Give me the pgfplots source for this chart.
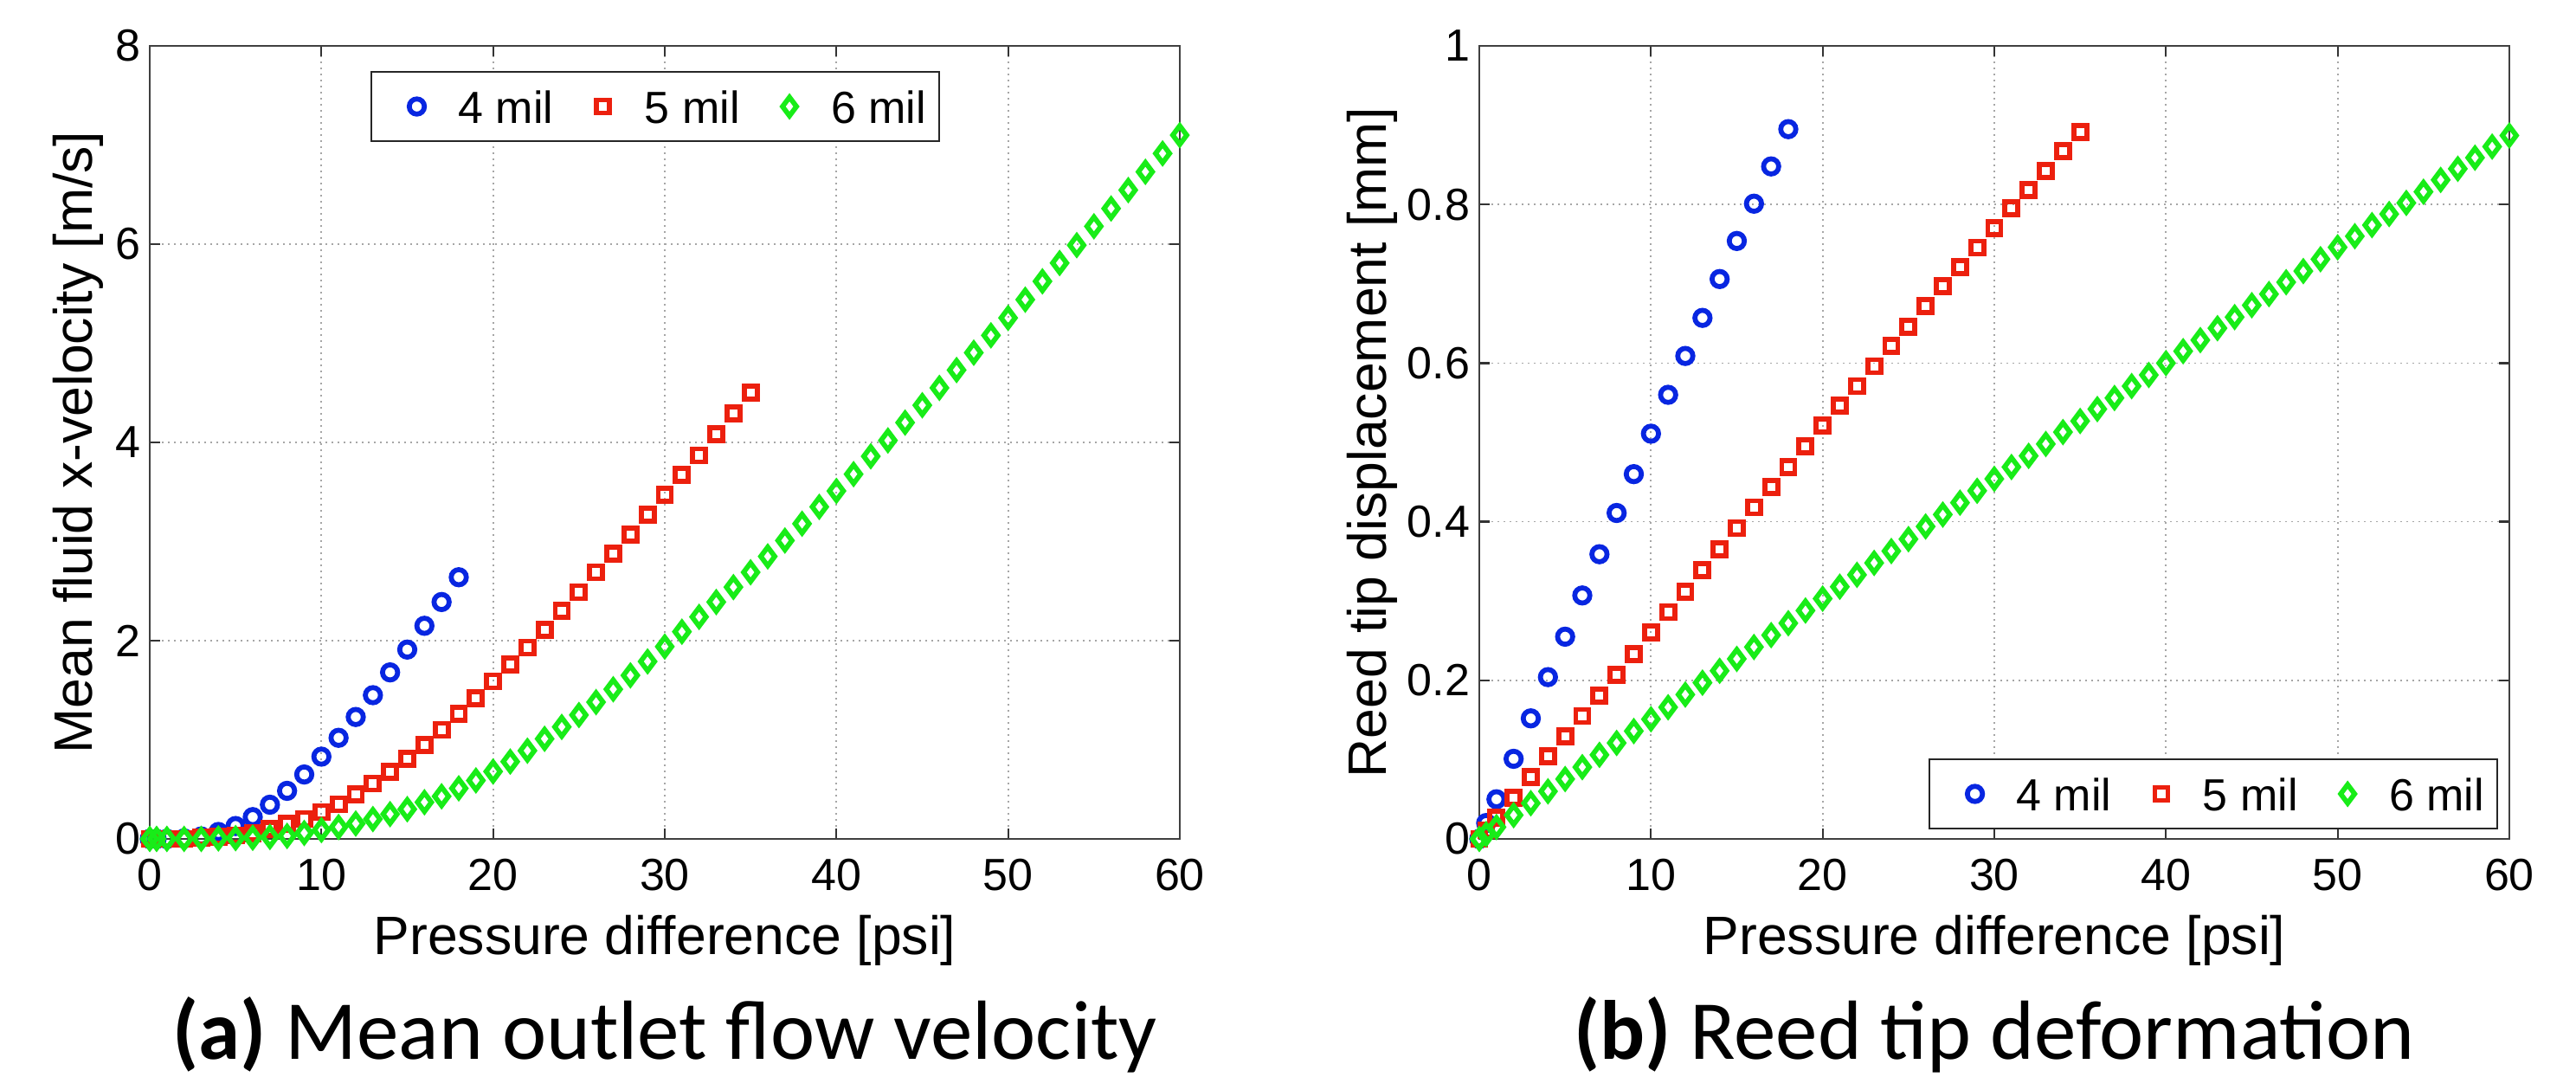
\documentclass[border=0pt]{standalone}
\usepackage{fontspec}
\setmainfont{Liberation Sans}
\newfontfamily\capfont{Carlito}
\usepackage{pgfplots}
\pgfplotsset{compat=1.18}
\definecolor{mblue}{RGB}{8,38,225}
\definecolor{mred}{RGB}{236,32,14}
\definecolor{mgreen}{RGB}{24,236,24}

\pgfplotsset{
  mymarks/.style={only marks, line width=1.15pt,
    legend image code/.code={\path[draw=none,fill=none] (-7.5pt,0pt) -- (2.4pt,0pt);
      \draw[##1,only marks,mark repeat=2,mark phase=2] plot coordinates {(-1pt,0pt) (0pt,0pt) (1pt,0pt)};}},
  panel/.style={
    scale only axis, width=238pt, height=183.2pt,
    anchor=south west, clip=false,
    xmin=0, xmax=60, xtick={0,10,20,30,40,50,60},
    grid=major,
    major grid style={densely dotted, black!35, line width=0.35pt},
    axis line style={black!75, line width=0.5pt},
    tick style={black!80, line width=0.45pt},
    major tick length=2.4pt, tick align=inside, tick pos=both,
    /pgf/number format/assume math mode=true,
    tick label style={font=\fontsize{10.4}{12}\selectfont},
    xticklabel style={inner sep=0pt, yshift=-4.4pt},
    yticklabel style={inner sep=0pt, xshift=-2pt},
    label style={font=\fontsize{12.5}{15}\selectfont},
    xlabel style={at={(axis description cs:0.5,0)}, anchor=base, yshift=-26.8pt},
    legend columns=-1,
    legend style={draw=black!85, line width=0.4pt, inner xsep=3pt, inner ysep=4.2pt,
      font=\fontsize{10.4}{12}\selectfont,
      nodes={inner sep=0pt, text height=7.6pt, text depth=0pt},
      /tikz/every odd column/.append style={column sep=7.2pt},
      /tikz/every even column/.append style={column sep=4pt}},
    xlabel={Pressure difference [psi]},
  },
  cmark/.style={mymarks, mark=o, mark size=1.75pt, color=mblue},
  smark/.style={mymarks, mark=square, mark size=1.5pt, color=mred},
  dmark/.style={mymarks, mark=diamond, mark size=2.15pt, color=mgreen},
}

\begin{document}
\begin{tikzpicture}
\useasboundingbox (-34.6pt,-55pt) rectangle (560.6pt,193.8pt);
% ---------------- (a)
\begin{axis}[panel, at={(0pt,0pt)},
  ymin=0, ymax=8, ytick={0,2,4,6,8},
  ylabel={Mean fluid x-velocity [m/s]},
  ylabel style={at={(axis description cs:0,0.5)}, anchor=base, yshift=13.2pt},
  legend style={at={(0.5,1)}, anchor=north, xshift=-2.2pt, yshift=-5.8pt},
]
\addplot[cmark] coordinates {
(0,0) (0.4,0) (1,0) (2,0.005) (3,0.025) (4,0.07) (5,0.13) (6,0.22) (7,0.345)
(8,0.485) (9,0.65) (10,0.83) (11,1.02) (12,1.23) (13,1.45) (14,1.68) (15,1.91)
(16,2.15) (17,2.39) (18,2.64)};
\addlegendentry{4 mil}
\addplot[smark] coordinates {
(0,0) (0.4,0) (1,0) (2,0) (3,0.01) (4,0.02) (5,0.035) (6,0.06) (7,0.1) (8,0.15)
(9,0.2) (10,0.27) (11,0.35) (12,0.45) (13,0.56) (14,0.68) (15,0.81) (16,0.95)
(17,1.10) (18,1.26) (19,1.42) (20,1.59) (21,1.76) (22,1.93) (23,2.11) (24,2.30)
(25,2.49) (26,2.69) (27,2.88) (28,3.07) (29,3.27) (30,3.47) (31,3.67) (32,3.87)
(33,4.08) (34,4.29) (35,4.50)};
\addlegendentry{5 mil}
\addplot[dmark] coordinates {
(0,0) (0.4,0) (1,0) (2,0) (3,0) (4,0.005) (5,0.008) (6,0.012) (7,0.02) (8,0.03)
(9,0.06) (10,0.09) (11,0.12) (12,0.155) (13,0.20) (14,0.25) (15,0.30) (16,0.37)
(17,0.43) (18,0.51) (19,0.59) (20,0.68) (21,0.78) (22,0.89) (23,1.01) (24,1.13)
(25,1.25) (26,1.38) (27,1.51) (28,1.65) (29,1.79) (30,1.94) (31,2.09) (32,2.24)
(33,2.39) (34,2.54) (35,2.69) (36,2.85) (37,3.01) (38,3.18) (39,3.35) (40,3.51)
(41,3.68) (42,3.86) (43,4.02) (44,4.20) (45,4.375) (46,4.55) (47,4.73) (48,4.905)
(49,5.08) (50,5.256) (51,5.44) (52,5.625) (53,5.81) (54,5.99) (55,6.18) (56,6.36)
(57,6.546) (58,6.73) (59,6.915) (60,7.10)};
\addlegendentry{6 mil}
\node[anchor=base, font=\capfont\fontsize{19.4}{23}\selectfont]
  at ([yshift=-50.8pt]axis description cs:0.5,0) {\textbf{(a)} Mean outlet flow velocity};
\end{axis}
% ---------------- (b)
\begin{axis}[panel, at={(307.2pt,0pt)},
  ymin=0, ymax=1, ytick={0,0.2,0.4,0.6,0.8,1},
  ylabel={Reed tip displacement [mm]},
  ylabel style={at={(axis description cs:0,0.5)}, anchor=base, yshift=21.5pt},
  legend style={at={(1,0)}, anchor=south east, xshift=-2.6pt, yshift=2.2pt},
]
\addplot[cmark] coordinates {
(0,0) (0.4,0.02) (1,0.050) (2,0.101) (3,0.152) (4,0.204) (5,0.255) (6,0.307)
(7,0.359) (8,0.411) (9,0.460) (10,0.511) (11,0.560) (12,0.609) (13,0.657)
(14,0.706) (15,0.754) (16,0.801) (17,0.848) (18,0.895)};
\addlegendentry{4 mil}
\addplot[smark] coordinates {
(0,0) (0.4,0.011) (1,0.027) (2,0.052) (3,0.078) (4,0.104) (5,0.129) (6,0.155)
(7,0.181) (8,0.207) (9,0.233) (10,0.260) (11,0.286) (12,0.312) (13,0.339)
(14,0.365) (15,0.392) (16,0.418) (17,0.4435) (18,0.469) (19,0.495) (20,0.521)
(21,0.546) (22,0.571) (23,0.596) (24,0.622) (25,0.646) (26,0.672) (27,0.697)
(28,0.721) (29,0.7455) (30,0.770) (31,0.795) (32,0.818) (33,0.842) (34,0.867)
(35,0.891)};
\addlegendentry{5 mil}
\addplot[dmark] coordinates {
(0,0) (0.4,0.006) (1,0.015) (2,0.030) (3,0.045) (4,0.060) (5,0.0755) (6,0.0905)
(7,0.106) (8,0.121) (9,0.136) (10,0.151) (11,0.166) (12,0.182) (13,0.197)
(14,0.212) (15,0.227) (16,0.242) (17,0.257) (18,0.272) (19,0.288) (20,0.303)
(21,0.318) (22,0.333) (23,0.348) (24,0.363) (25,0.378) (26,0.394) (27,0.409)
(28,0.424) (29,0.439) (30,0.454) (31,0.469) (32,0.483) (33,0.498) (34,0.513)
(35,0.527) (36,0.542) (37,0.556) (38,0.571) (39,0.585) (40,0.600) (41,0.615)
(42,0.629) (43,0.644) (44,0.658) (45,0.673) (46,0.687) (47,0.702) (48,0.716)
(49,0.731) (50,0.746) (51,0.760) (52,0.774) (53,0.788) (54,0.802) (55,0.816)
(56,0.831) (57,0.845) (58,0.859) (59,0.873) (60,0.887)};
\addlegendentry{6 mil}
\node[anchor=base, font=\capfont\fontsize{19.4}{23}\selectfont]
  at ([yshift=-50.8pt]axis description cs:0.5,0) {\textbf{(b)} Reed tip deformation};
\end{axis}
\end{tikzpicture}
\end{document}
